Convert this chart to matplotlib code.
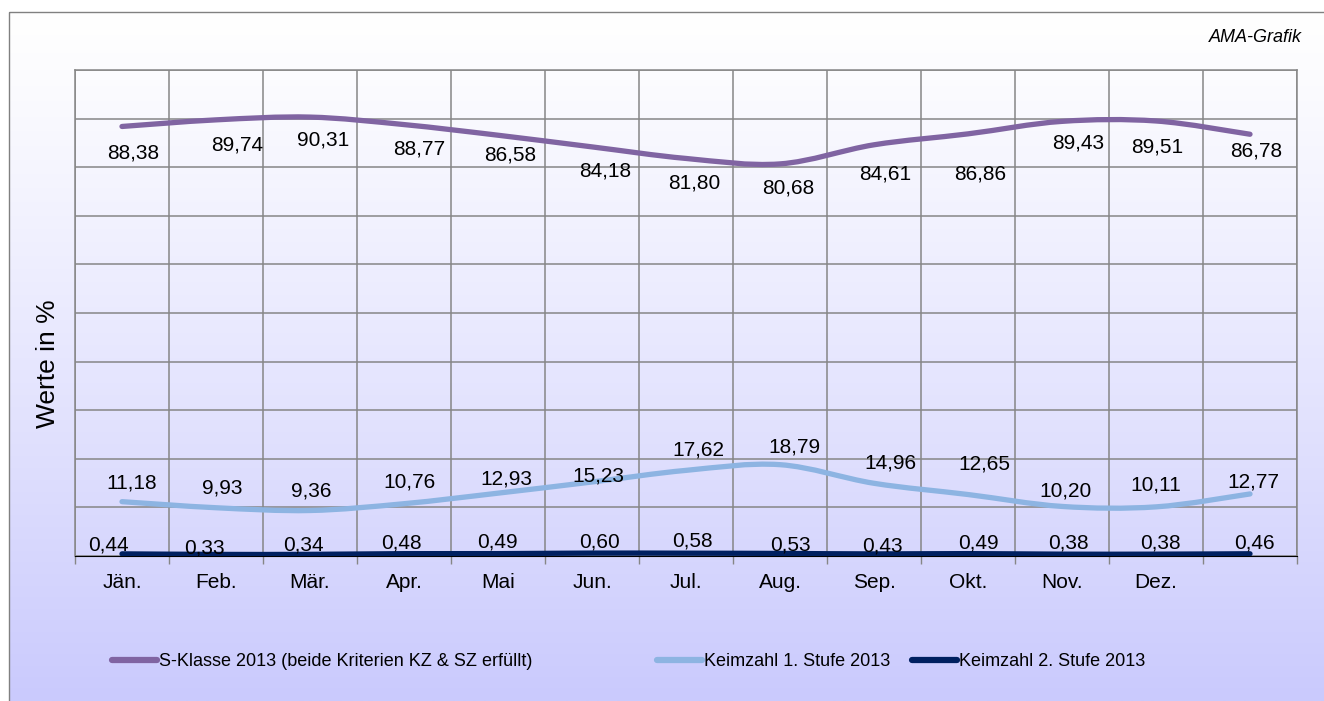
import numpy as np
import matplotlib
matplotlib.use("Agg")
import matplotlib.pyplot as plt
from matplotlib.path import Path
from matplotlib.patches import PathPatch, Rectangle
from matplotlib.lines import Line2D

plt.rcParams['font.family'] = ['Liberation Sans', 'DejaVu Sans']

# data
months = ["Jän.", "Feb.", "Mär.", "Apr.", "Mai", "Jun.", "Jul.", "Aug.",
          "Sep.", "Okt.", "Nov.", "Dez.", ""]
s_klasse = [88.38, 89.74, 90.31, 88.77, 86.58, 84.18, 81.80, 80.68,
            84.61, 86.86, 89.43, 89.51, 86.78]
keim_1 = [11.18, 9.93, 9.36, 10.76, 12.93, 15.23, 17.62, 18.79,
          14.96, 12.65, 10.20, 10.11, 12.77]
keim_2 = [0.44, 0.33, 0.34, 0.48, 0.49, 0.60, 0.58, 0.53,
          0.43, 0.49, 0.38, 0.38, 0.46]
names = ["S-Klasse 2013 (beide Kriterien KZ & SZ erfüllt)",
         "Keimzahl 1. Stufe 2013", "Keimzahl 2. Stufe 2013"]
colors = ["#8064A2", "#8DB4E2", "#002060"]

# label offsets in pixels (manual placement like in the original)
s_off = [(11, -27), (21, -25), (13, -23), (15, -24), (12, -20), (13, -24), (8, -25),
         (8, -24), (11, -29), (12, -40), (16, -22), (1, -26), (6, -17)]
k1_off = [(10, 19), (6, 20), (1, 20), (5, 22), (8, 14), (6, 6), (12, 20),
          (14, 18), (16, 20), (16, 31), (3, 15), (0, 22), (3, 12)]
k2_off = [(-14, 9), (-12, 6), (-7, 9), (-3, 11), (-1, 12), (7, 11), (6, 12),
          (10, 8), (8, 8), (10, 11), (6, 11), (4, 11), (4, 11)]

W, H = 1324, 701
fig = plt.figure(figsize=(W / 100, H / 100), dpi=100)

# background gradient + frame
bg = fig.add_axes([0, 0, 1, 1], zorder=-10)
bg.axis("off")
t = np.linspace(0, 1, 256)[:, None] ** 1.15
top = np.array([255, 255, 255]) / 255
bot = np.array([202, 202, 253]) / 255
grad = (top * (1 - t) + bot * t)[:, None, :].repeat(2, axis=1)
bg.imshow(grad, extent=[9, W, H, 12], aspect="auto", interpolation="bilinear")
bg.add_patch(Rectangle((9, 12), W, H, fill=False, edgecolor="#808080", lw=1))
bg.set_xlim(0, W)
bg.set_ylim(H, 0)

ax = fig.add_axes([75 / W, 1 - 556 / H, (1297 - 75) / W, (556 - 70) / H])
ax.patch.set_alpha(0)
n = len(months)
x = np.arange(n) + 0.5
ax.set_xlim(0, n)
ax.set_ylim(0, 100)


def smooth_path(xs, ys):
    pts = np.column_stack([xs, ys])
    verts = [pts[0]]
    codes = [Path.MOVETO]
    for i in range(len(pts) - 1):
        p0 = pts[i - 1] if i > 0 else pts[i]
        p1 = pts[i]
        p2 = pts[i + 1]
        p3 = pts[i + 2] if i + 2 < len(pts) else pts[i + 1]
        verts += [p1 + (p2 - p0) / 6, p2 - (p3 - p1) / 6, p2]
        codes += [Path.CURVE4] * 3
    return Path(verts, codes)


series = [s_klasse, keim_1, keim_2]
offsets = [s_off, k1_off, k2_off]
for vals, col, offs in zip(series, colors, offsets):
    ax.add_patch(PathPatch(smooth_path(x, vals), fill=False, edgecolor=col,
                           lw=3.8, capstyle="round", joinstyle="round", zorder=3))
    for xi, v, (dx, dy) in zip(x, vals, offs):
        ax.annotate(f"{v:.2f}".replace(".", ","), (xi, v), xytext=(dx, dy),
                    textcoords="offset pixels", ha="center", va="center",
                    fontsize=15, color="black", zorder=4)

# grid
ax.set_xticks(np.arange(n + 1))
ax.set_xticklabels([])
ax.set_yticks(np.arange(0, 101, 10))
ax.set_yticklabels([])
ax.tick_params(axis="y", length=0)
ax.tick_params(axis="x", which="major", length=6, color="#868686", width=1)
ax.set_xticks(x, minor=True)
ax.set_xticklabels(months, minor=True, fontsize=15)
ax.tick_params(axis="x", which="minor", length=0, pad=12)
ax.grid(True, which="major", color="#868686", lw=1.1)
for side in ["left", "top", "right"]:
    ax.spines[side].set_color("#868686")
    ax.spines[side].set_linewidth(1.1)
ax.spines["bottom"].set_color("black")
ax.spines["bottom"].set_linewidth(0.8)

ax.set_ylabel("Werte in %", fontsize=19)
ax.yaxis.set_label_coords(-0.012, 0.395)

fig.text(1302 / W, 1 - 38 / H, "AMA-Grafik", ha="right", va="center",
         fontsize=13, style="italic")

# legend entries placed individually (uneven spacing as in the original)
leg_x = [112, 657, 912]
for c, name, lx in zip(colors, names, leg_x):
    h = Line2D([], [], color=c, lw=4.5, solid_capstyle="round")
    fig.legend([h], [name], loc="center left",
               bbox_to_anchor=(lx / W, 1 - 662 / H), frameon=False,
               fontsize=13, handlelength=2.5, handletextpad=0.1,
               borderpad=0, borderaxespad=0)

fig.savefig("out.png", dpi=100)
